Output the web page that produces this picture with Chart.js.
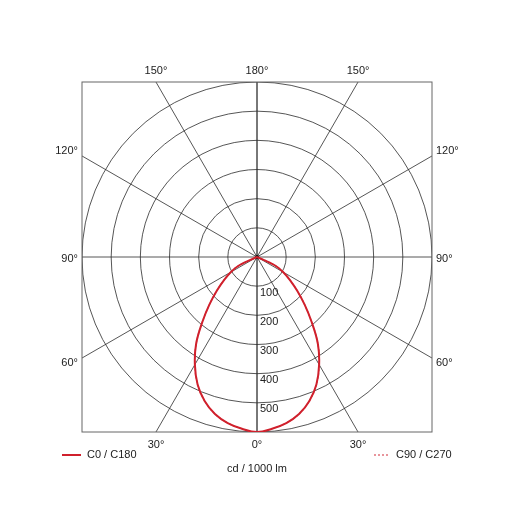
<!DOCTYPE html>
<html>
<head>
<meta charset="utf-8">
<script src="https://cdn.jsdelivr.net/npm/chart.js@4.4.1/dist/chart.umd.min.js"></script>
<style>
  html, body { margin: 0; padding: 0; background: #fff; }
  canvas { display: block; }
</style>
</head>
<body>
<canvas id="ldc" width="515" height="515"></canvas>
<script>
// ===== Light distribution curve (cd / 1000 lm) =====
const gammaAngles = [0, 5, 10, 15, 20, 25, 30, 35, 40, 45, 50, 55, 60, 65, 70, 75, 80, 85, 90];
const c0c180  = [600, 591, 578, 557, 525, 482, 426, 364, 292, 231, 180, 138, 104, 67, 0, 0, 0, 0, 0];
const c90c270 = [600, 591, 578, 557, 525, 482, 426, 364, 292, 231, 180, 138, 104, 67, 0, 0, 0, 0, 0];
const ringValues = [100, 200, 300, 400, 500, 600];
const ringLabels = ['100', '200', '300', '400', '500'];
const angleTicks = [0, 30, 60, 90, 120, 150, 180];
const maxValue = 600;

const RED = '#d0202c';
const FONT = '11px "Liberation Sans", Arial, sans-serif';

// one plane -> closed outline, left half (C180 / C270) then right half (C0 / C90)
function planePoints(vals) {
  const pts = [];
  for (let i = gammaAngles.length - 1; i >= 0; i--) {
    const a = gammaAngles[i] * Math.PI / 180;
    pts.push({ x: -vals[i] * Math.sin(a), y: -vals[i] * Math.cos(a) });
  }
  for (let i = 1; i < gammaAngles.length; i++) {
    const a = gammaAngles[i] * Math.PI / 180;
    pts.push({ x: vals[i] * Math.sin(a), y: -vals[i] * Math.cos(a) });
  }
  return pts;
}

const polarGrid = {
  id: 'polarGrid',
  beforeDatasetsDraw(chart) {
    const { ctx, chartArea: ca, scales: { x, y } } = chart;
    const cx = x.getPixelForValue(0), cy = y.getPixelForValue(0);
    ctx.save();
    ctx.beginPath();
    ctx.rect(ca.left, ca.top, ca.right - ca.left, ca.bottom - ca.top);
    ctx.clip();
    ctx.strokeStyle = '#2b2b2b';
    ctx.lineWidth = 0.8;
    // rings
    ringValues.forEach(v => {
      const r = x.getPixelForValue(v) - cx;
      ctx.beginPath();
      ctx.arc(cx, cy, r, 0, Math.PI * 2);
      ctx.stroke();
    });
    // radial lines every 30°
    angleTicks.forEach(t => {
      const a = t * Math.PI / 180;
      [-1, 1].forEach(s => {
        ctx.beginPath();
        ctx.moveTo(cx, cy);
        ctx.lineTo(x.getPixelForValue(s * 3000 * Math.sin(a)), y.getPixelForValue(-3000 * Math.cos(a)));
        ctx.stroke();
      });
    });
    ctx.beginPath();
    ctx.arc(cx, cy, 2, 0, Math.PI * 2);
    ctx.fillStyle = '#111';
    ctx.fill();
    ctx.restore();

    // frame
    ctx.save();
    ctx.strokeStyle = '#666';
    ctx.lineWidth = 1;
    ctx.strokeRect(ca.left, ca.top, ca.right - ca.left, ca.bottom - ca.top);
    ctx.restore();

    // labels
    ctx.save();
    ctx.font = FONT;
    ctx.fillStyle = '#222';
    // ring values along 0° axis
    ctx.textAlign = 'left';
    ctx.textBaseline = 'top';
    ringLabels.forEach((lab, i) => {
      ctx.fillText(lab, cx + 3, y.getPixelForValue(-ringValues[i]) + 1);
    });
    // angle labels at the frame
    const hw = (ca.right - ca.left) / 2, hh = (ca.bottom - ca.top) / 2;
    angleTicks.forEach(t => {
      const a = t * Math.PI / 180;
      const dx = Math.sin(a), dy = Math.cos(a);
      const sides = (t === 0 || t === 180) ? [1] : [-1, 1];
      sides.forEach(s => {
        const txt = t + '°';
        if (Math.abs(dy) * hw >= Math.abs(dx) * hh) {
          const L = hh / Math.abs(dy);
          const px = cx + s * L * dx;
          ctx.textAlign = 'center';
          ctx.textBaseline = 'middle';
          if (dy > 0) ctx.fillText(txt, px, ca.bottom + 12.5);
          else ctx.fillText(txt, px, ca.top - 11.5);
        } else {
          const L = hw / Math.abs(dx);
          let py = cy + L * dy;
          if (t < 90) py += 5; else if (t > 90) py -= 5; else py += 1.5;
          ctx.textBaseline = 'middle';
          if (s < 0) { ctx.textAlign = 'right'; ctx.fillText(txt, ca.left - 4, py); }
          else { ctx.textAlign = 'left'; ctx.fillText(txt, ca.right + 4, py); }
        }
      });
    });
    ctx.restore();
  },
  afterDraw(chart) {
    const { ctx, chartArea: ca } = chart;
    const ds = chart.data.datasets;
    const ly = 455;
    ctx.save();
    ctx.font = FONT;
    ctx.fillStyle = '#222';
    ctx.textBaseline = 'middle';
    // C0 / C180 at left
    ctx.strokeStyle = ds[0].borderColor;
    ctx.lineWidth = 2;
    ctx.beginPath(); ctx.moveTo(62, ly); ctx.lineTo(81, ly); ctx.stroke();
    ctx.textAlign = 'left';
    ctx.fillText(ds[0].label, 87, ly);
    // C90 / C270 at right
    ctx.strokeStyle = ds[1].borderColor;
    ctx.lineWidth = 1.2;
    ctx.setLineDash([2, 2]);
    ctx.beginPath(); ctx.moveTo(374, ly); ctx.lineTo(390, ly); ctx.stroke();
    ctx.setLineDash([]);
    ctx.fillText(ds[1].label, 396, ly);
    // unit
    ctx.textAlign = 'center';
    ctx.fillText('cd / 1000 lm', (ca.left + ca.right) / 2, 469);
    ctx.restore();
  }
};

new Chart(document.getElementById('ldc'), {
  type: 'scatter',
  data: {
    datasets: [
      {
        label: 'C0 / C180',
        data: planePoints(c0c180),
        showLine: true,
        borderColor: RED,
        borderWidth: 2,
        pointRadius: 0,
        tension: 0.4
      },
      {
        label: 'C90 / C270',
        data: planePoints(c90c270),
        showLine: true,
        borderColor: '#d9505c',
        borderWidth: 1.2,
        borderDash: [2, 2],
        pointRadius: 0,
        tension: 0.4
      }
    ]
  },
  options: {
    responsive: false,
    animation: false,
    layout: { padding: { left: 82, right: 83, top: 82, bottom: 83 } },
    plugins: { legend: { display: false }, tooltip: { enabled: false } },
    scales: {
      x: { type: 'linear', min: -maxValue, max: maxValue, display: false },
      y: { type: 'linear', min: -maxValue, max: maxValue, display: false }
    }
  },
  plugins: [polarGrid]
});
</script>
</body>
</html>
